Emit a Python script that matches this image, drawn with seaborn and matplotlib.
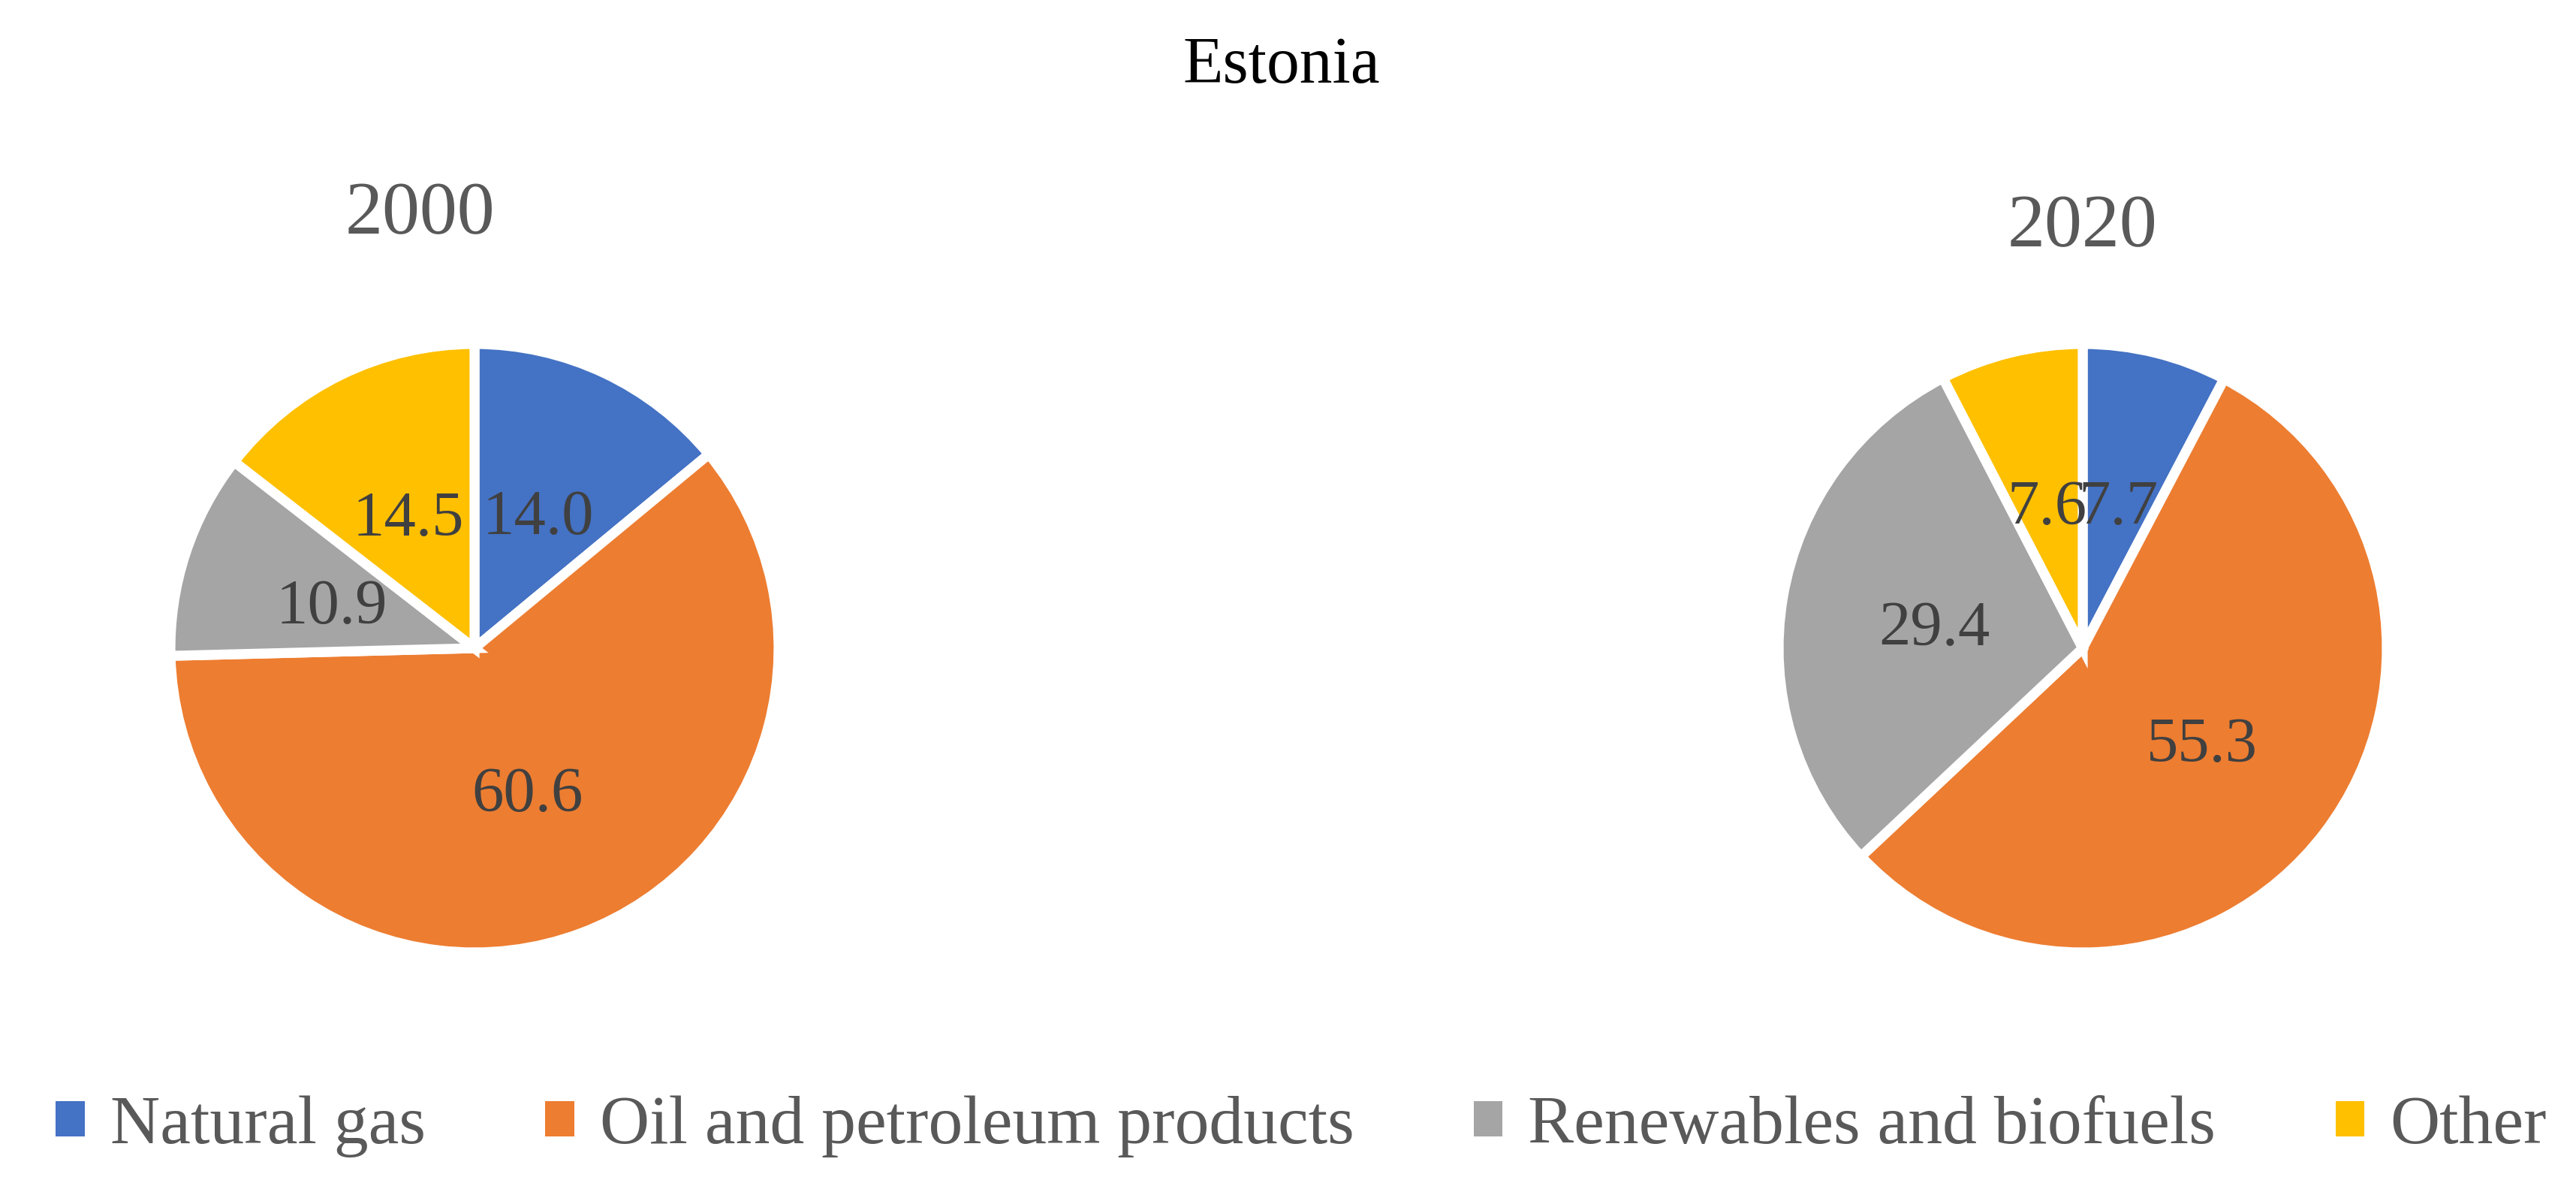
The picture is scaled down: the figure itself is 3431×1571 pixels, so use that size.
import numpy as np
import matplotlib
matplotlib.use("Agg")
import matplotlib.pyplot as plt
from matplotlib.patches import Patch
import seaborn as sns

# ---- data ----
categories = ["Natural gas", "Oil and petroleum products", "Renewables and biofuels", "Other"]
values_2000 = [14.0, 60.6, 10.9, 14.5]
values_2020 = [7.7, 55.3, 29.4, 7.6]
years = ["2000", "2020"]
country = "Estonia"

# ---- style ----
sns.set_theme(style="white")
plt.rcParams["font.family"] = ["Liberation Serif", "DejaVu Serif"]
colors = ["#4472C4", "#ED7D31", "#A5A5A5", "#FFC000"]

W, H = 3431, 1571
fig = plt.figure(figsize=(W / 100, H / 100), dpi=100)

def pie_axes(cx, cy, r):
    return fig.add_axes([(cx - r) / W, (H - cy - r) / H, 2 * r / W, 2 * r / H])

r_px = 405
centers = [(632, 863), (2774, 863)]
title_pos = [(559, 310), (2773, 327)]   # baseline positions

for year, vals, (cx, cy), (tx, ty) in zip(years, [values_2000, values_2020], centers, title_pos):
    ax = pie_axes(cx, cy, r_px)
    wedges, _, autotexts = ax.pie(vals, colors=colors, startangle=90, counterclock=False,
                                  radius=1.0, autopct="%.1f", pctdistance=0.494,
                                  wedgeprops=dict(edgecolor="white", linewidth=9.5),
                                  textprops=dict(fontsize=61, color="#404040"))
    for t in autotexts:
        t.set_va("center_baseline")
    ax.set_xlim(-1, 1)
    ax.set_ylim(-1, 1)
    ax.set_aspect("equal")
    ax.axis("off")
    fig.text(tx / W, 1 - ty / H, year, ha="center", va="baseline",
             fontsize=72, color="#595959")

fig.text(1707 / W, 1 - 110 / H, country, ha="center", va="baseline",
         fontsize=63, color="black")

handles = [Patch(facecolor=c, edgecolor="none", label=l) for c, l in zip(colors, categories)]
leg = fig.legend(handles=handles, loc="center", bbox_to_anchor=(1733 / W, 1 - 1500 / H),
                 ncol=4, frameon=False, fontsize=66,
                 handlelength=0.42, handleheight=0.42, handletextpad=0.37,
                 columnspacing=1.74, borderpad=0, borderaxespad=0)
for t in leg.get_texts():
    t.set_color("#595959")

fig.savefig("out.png", dpi=100, facecolor="white")
